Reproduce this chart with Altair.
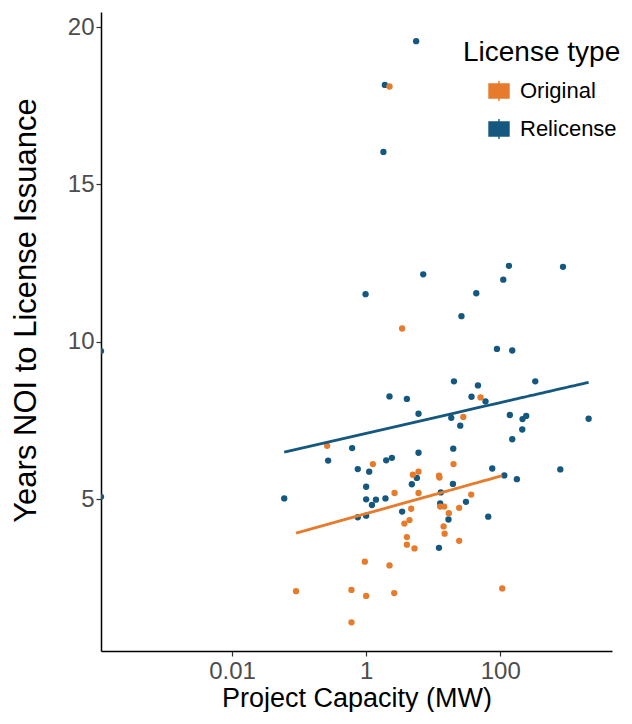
import altair as alt
import pandas as pd

# ---- data ----
relicense_capacity = [5.57, 1.90, 1.81, 7.1, 0.98, 0, 0, 2.23, 4.05, 6.04,
                      0.618, 0.271, 1.99, 2.42, 6.04, 0.75, 1.11, 5.7, 4.8, 1.0,
                      0.06, 1.0, 1.40, 1.94, 1.22, 3.44, 0.75, 1.0, 12.2, 20.4,
                      46.5, 37.3, 60.3, 18.6, 25.3, 19.9, 76, 19.7, 13.0, 12.7,
                      30.8, 16.9, 66.2, 134.8, 863, 111, 43.9, 26.4, 89.3, 151,
                      333, 139, 215, 244, 213, 2080, 151, 115, 177, 787]
relicense_years = [19.55, 18.16, 16.03, 12.14, 11.51, 9.70, 5.07, 8.26, 8.18, 7.71,
                   6.62, 6.22, 6.23, 6.31, 6.47, 5.95, 5.87, 5.67, 5.47, 5.39,
                   5.02, 4.99, 4.98, 5.02, 4.81, 4.60, 4.42, 4.47, 3.45, 8.74,
                   8.61, 8.25, 8.10, 7.58, 7.33, 6.60, 5.97, 5.48, 5.21, 4.86,
                   4.91, 4.35, 4.44, 12.41, 12.38, 11.97, 11.54, 10.81, 9.77, 9.72,
                   8.74, 7.67, 7.54, 7.64, 7.21, 7.55, 6.90, 5.75, 5.63, 5.94]

original_capacity = [2.23, 3.44, 0.262, 1.26, 4.97, 6.04, 2.65, 6.04, 4.70, 4.43,
                     3.72, 4.05, 4.05, 5.26, 0.955, 2.23, 0.09, 0.604, 1.0, 2.62,
                     0.604, 50.8, 28.1, 20.1, 12.2, 12.4, 36.9, 12.7, 14.6, 24.4,
                     17.1, 14.3, 14.8, 24.4, 107]
original_years = [18.11, 10.42, 6.69, 6.11, 5.77, 5.87, 5.19, 5.19, 4.69, 4.33,
                  4.22, 3.79, 3.55, 3.43, 3.01, 2.89, 2.07, 2.11, 1.92, 2.01,
                  1.08, 8.23, 7.61, 6.11, 5.74, 5.68, 5.14, 4.76, 4.76, 4.72,
                  4.55, 4.13, 3.90, 3.67, 2.16]

license_types = ["Original", "Relicense"]
type_colors = ["#E77B2C", "#15587F"]
x_ticks = [0.01, 1, 100]
y_ticks = [5, 10, 15, 20]

X_MIN, X_MAX = 1.109e-4, 4645.0
Y_MIN, Y_MAX = 0.17, 20.477

df = pd.DataFrame({
    "cap": relicense_capacity + original_capacity,
    "years": relicense_years + original_years,
    "type": ["Relicense"] * len(relicense_capacity) + ["Original"] * len(original_capacity),
})

FONT = "Liberation Sans"
BOX_PATH = ("M-1,-0.7L1,-0.7L1,0.7L-1,0.7Z M-1,0L1,0 "
            "M0,-0.7L0,-1 M0,0.7L0,1")

x_scale = alt.Scale(type="log", domain=[X_MIN, X_MAX], nice=False)
y_scale = alt.Scale(domain=[Y_MIN, Y_MAX], nice=False, zero=False)
color_scale = alt.Scale(domain=license_types, range=type_colors)

base = alt.Chart(df)

points = base.transform_calculate(
    cap_plot=f"datum.cap > 0 ? datum.cap : {X_MIN}"
).mark_circle(size=40, opacity=1, clip=True).encode(
    x=alt.X("cap_plot:Q", scale=x_scale,
            axis=alt.Axis(values=x_ticks, format="~g", title="Project Capacity (MW)",
                          titleFontSize=27, labelPadding=3, titlePadding=2)),
    y=alt.Y("years:Q", scale=y_scale,
            axis=alt.Axis(values=y_ticks, title="Years NOI to License Issuance",
                          titleFontSize=31, labelPadding=2, titleX=-66, titleY=298,
                          titleBaseline="alphabetic")),
    color=alt.Color("type:N", scale=color_scale,
                    legend=alt.Legend(orient="none", legendX=362, legendY=27,
                                      title="License type", titleFontSize=28,
                                      titleFont=FONT, titleColor="black",
                                      titleFontWeight="normal", titlePadding=13,
                                      labelFontSize=22, labelFont=FONT,
                                      labelColor="black", labelOffset=10,
                                      symbolType=BOX_PATH, symbolSize=400,
                                      symbolStrokeColor="#333333",
                                      symbolStrokeWidth=1.4, symbolOffset=25,
                                      rowPadding=12)),
)

lines = base.transform_filter("datum.cap > 0").transform_regression(
    "cap", "years", method="log", groupby=["type"]
).mark_line(strokeWidth=2.8, clip=True).encode(
    x=alt.X("cap:Q", scale=x_scale),
    y=alt.Y("years:Q", scale=y_scale),
    color=alt.Color("type:N", scale=color_scale, legend=None),
)

chart = alt.layer(points, lines).properties(
    width=511, height=639,
    autosize=alt.AutoSizeParams(type="none"),
    padding={"left": 93, "top": 4, "right": 12, "bottom": 61},
).configure_view(
    strokeOpacity=0
).configure_axis(
    grid=False, domainColor="black", domainWidth=1.5,
    tickColor="#333333", tickWidth=1.2, tickSize=5,
    labelColor="#4D4D4D", labelFont=FONT, labelFontSize=24,
    titleFont=FONT, titleColor="black", titleFontWeight="normal",
)

chart.save("out.html", embed_options={"renderer": "svg", "actions": False})
